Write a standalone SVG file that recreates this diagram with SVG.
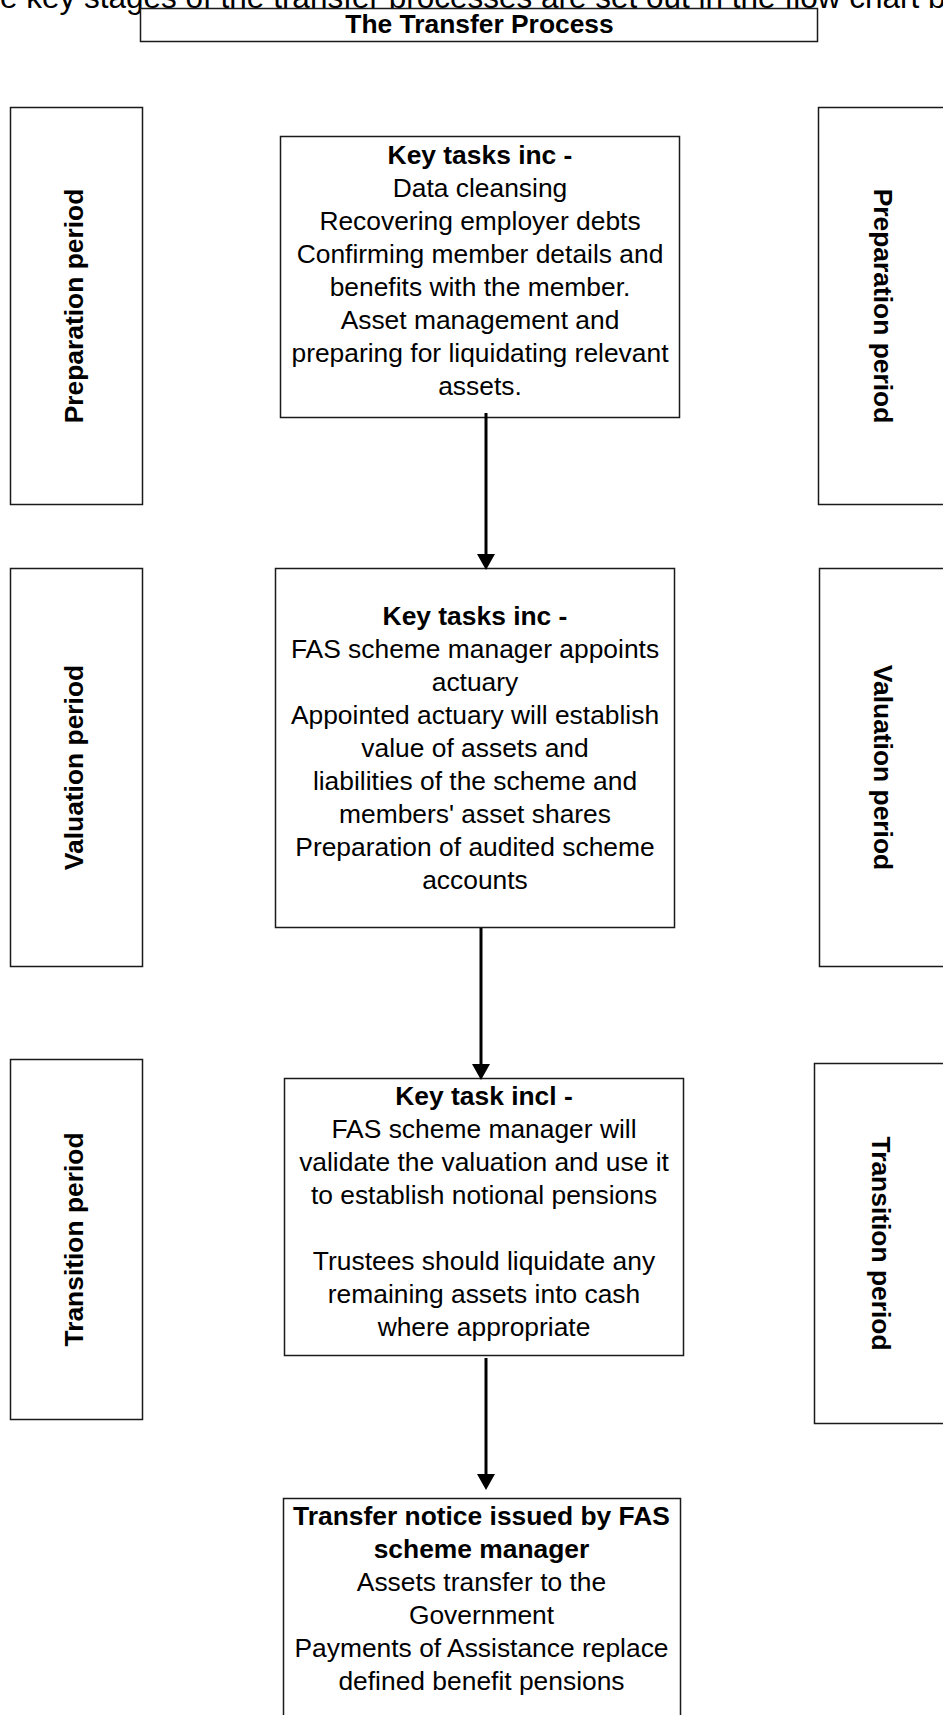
<svg xmlns="http://www.w3.org/2000/svg" width="943" height="1715" viewBox="0 0 943 1715">
  <style>
    .box { fill: #ffffff; stroke: #1a1a1a; stroke-width: 1.5; }
    .t { font-family: "Liberation Sans", Arial, sans-serif; font-size: 26.4px; fill: #000000; text-anchor: middle; }
    .b { font-weight: bold; }
    .conn { stroke: #000000; stroke-width: 3; fill: none; marker-end: url(#arrow); }
  </style>
  <defs>
    <marker id="arrow" markerUnits="userSpaceOnUse" markerWidth="16" markerHeight="18" refX="2" refY="9" orient="auto">
      <path d="M0,0 L16,9 L0,18 Z" fill="#000000"/>
    </marker>
  </defs>
  <rect x="0" y="0" width="943" height="1715" fill="#ffffff"/>

  <g id="intro">
    <text x="-36.8" y="7.5" style="font-family:'Liberation Sans', Arial, sans-serif; font-size:31.5px; fill:#000000">The key stages of the transfer processes are set out in the flow chart below</text>
  </g>

  <g id="title">
    <rect class="box" x="140.5" y="8.5" width="677" height="33"/>
    <text class="t b" x="479.5" y="33">The Transfer Process</text>
  </g>

  <g id="prep-left">
    <rect class="box" x="10.5" y="107.5" width="132" height="397"/>
    <text class="t b" transform="translate(82.5,306) rotate(-90)" x="0" y="0">Preparation period</text>
  </g>
  <g id="prep-right">
    <rect class="box" x="818.5" y="107.5" width="200" height="397"/>
    <text class="t b" transform="translate(874,306) rotate(90)" x="0" y="0">Preparation period</text>
  </g>

  <g id="val-left">
    <rect class="box" x="10.5" y="568.5" width="132" height="398"/>
    <text class="t b" transform="translate(82.5,767.5) rotate(-90)" x="0" y="0">Valuation period</text>
  </g>
  <g id="val-right">
    <rect class="box" x="819.5" y="568.5" width="200" height="398"/>
    <text class="t b" transform="translate(874,767.5) rotate(90)" x="0" y="0">Valuation period</text>
  </g>

  <g id="trans-left">
    <rect class="box" x="10.5" y="1059.5" width="132" height="360"/>
    <text class="t b" transform="translate(82.5,1239.5) rotate(-90)" x="0" y="0">Transition period</text>
  </g>
  <g id="trans-right">
    <rect class="box" x="814.5" y="1063.5" width="200" height="360"/>
    <text class="t b" transform="translate(872,1243.5) rotate(90)" x="0" y="0">Transition period</text>
  </g>

  <g id="prep-tasks">
    <rect class="box" x="280.5" y="136.5" width="399" height="281"/>
    <text class="t b" x="480" y="163.5">Key tasks inc -</text>
    <text class="t" x="480" y="196.5">Data cleansing</text>
    <text class="t" x="480" y="229.5">Recovering employer debts</text>
    <text class="t" x="480" y="262.5">Confirming member details and</text>
    <text class="t" x="480" y="295.5">benefits with the member.</text>
    <text class="t" x="480" y="328.5">Asset management and</text>
    <text class="t" x="480" y="361.5">preparing for liquidating relevant</text>
    <text class="t" x="480" y="394.5">assets.</text>
  </g>

  <g id="val-tasks">
    <rect class="box" x="275.5" y="568.5" width="399" height="359"/>
    <text class="t b" x="475" y="624.5">Key tasks inc -</text>
    <text class="t" x="475" y="657.5">FAS scheme manager appoints</text>
    <text class="t" x="475" y="690.5">actuary</text>
    <text class="t" x="475" y="723.5">Appointed actuary will establish</text>
    <text class="t" x="475" y="756.5">value of assets and</text>
    <text class="t" x="475" y="789.5">liabilities of the scheme and</text>
    <text class="t" x="475" y="822.5">members' asset shares</text>
    <text class="t" x="475" y="855.5">Preparation of audited scheme</text>
    <text class="t" x="475" y="888.5">accounts</text>
  </g>

  <g id="trans-tasks">
    <rect class="box" x="284.5" y="1078.5" width="399" height="277"/>
    <text class="t b" x="484" y="1104.5">Key task incl -</text>
    <text class="t" x="484" y="1137.5">FAS scheme manager will</text>
    <text class="t" x="484" y="1170.5">validate the valuation and use it</text>
    <text class="t" x="484" y="1203.5">to establish notional pensions</text>
    <text class="t" x="484" y="1269.5">Trustees should liquidate any</text>
    <text class="t" x="484" y="1302.5">remaining assets into cash</text>
    <text class="t" x="484" y="1335.5">where appropriate</text>
  </g>

  <g id="transfer-notice">
    <rect class="box" x="283.5" y="1498.5" width="397" height="240"/>
    <text class="t b" x="481.5" y="1524.5">Transfer notice issued by FAS</text>
    <text class="t b" x="481.5" y="1557.5">scheme manager</text>
    <text class="t" x="481.5" y="1590.5">Assets transfer to the</text>
    <text class="t" x="481.5" y="1623.5">Government</text>
    <text class="t" x="481.5" y="1656.5">Payments of Assistance replace</text>
    <text class="t" x="481.5" y="1689.5">defined benefit pensions</text>
  </g>

  <g id="connectors">
    <line class="conn" x1="486" y1="413" x2="486" y2="556"/>
    <line class="conn" x1="481" y1="928" x2="481" y2="1066"/>
    <line class="conn" x1="486" y1="1358" x2="486" y2="1476"/>
  </g>
</svg>
